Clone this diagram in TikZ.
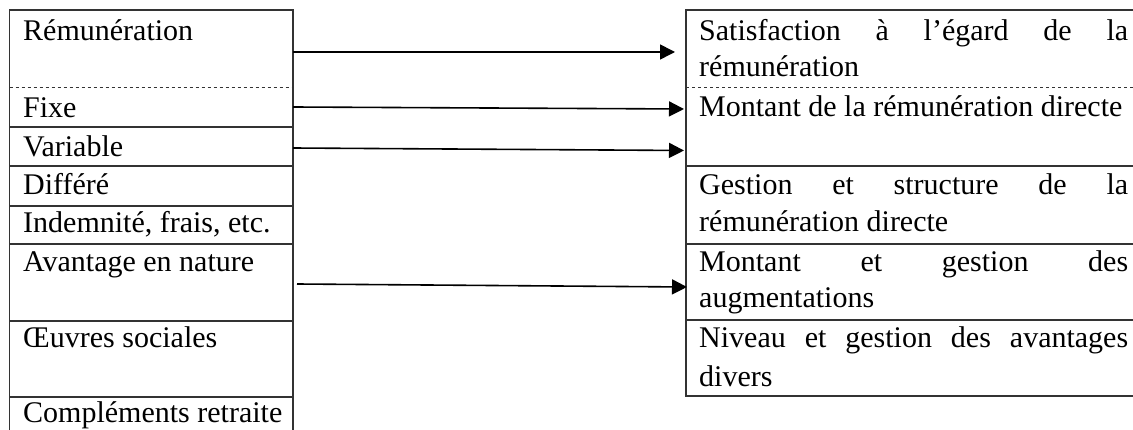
\documentclass[tikz,border=0pt]{standalone}
\usepackage{fontspec}
\setmainfont{Liberation Serif}
\usetikzlibrary{arrows.meta}
\begin{document}
\begin{tikzpicture}[x=1pt,y=-1pt,
  tline/.style={line width=1.2pt, draw=black!80},
  dline/.style={line width=0.9pt, draw=black!80, dash pattern=on 3pt off 3pt},
  lbl/.style={anchor=base west, inner sep=0pt, font=\fontsize{30}{37}\selectfont},
  conn/.style={line width=1.6pt, draw=black, -{Triangle[length=15pt,width=15pt]}}]
\useasboundingbox (0,0) rectangle (1133,430);
% left table
\draw[tline] (9.5,430) -- (9.5,10) -- (293,10) -- (293,430);
\draw[dline] (9.5,87) -- (293,87);
\foreach \yy in {127,166,206,244,321,397}
  \draw[tline] (9.5,\yy) -- (293,\yy);
% right table
\draw[tline] (1133,10) -- (686,10) -- (686,396) -- (1133,396);
\draw[dline] (686,87) -- (1133,87);
\foreach \yy in {166,244,320}
  \draw[tline] (686,\yy) -- (1133,\yy);
% left labels
\node[lbl] (l1) at (23,40.5) {Rémunération};
\node[lbl] (l2) at (23,118) {Fixe};
\node[lbl] (l3) at (23,157) {Variable};
\node[lbl] (l4) at (23,194.5) {Différé};
\node[lbl] (l5) at (23,233) {Indemnité, frais, etc.};
\node[lbl] (l6) at (23,272) {Avantage en nature};
\node[lbl] (l7) at (23,348) {Œuvres sociales};
\node[lbl] (l8) at (23,422) {Compléments retraite};
% right labels
\node[lbl] (r1a) at (699,40.5) {\hbox to 429pt{Satisfaction\hfill à\hfill l’égard\hfill de\hfill la}};
\node[lbl] (r1b) at (699,77) {rémunération};
\node[lbl] (r2) at (699,117) {Montant de la rémunération directe};
\node[lbl] (r3a) at (699,195) {\hbox to 429pt{Gestion\hfill et\hfill structure\hfill de\hfill la}};
\node[lbl] (r3b) at (699,232) {rémunération directe};
\node[lbl] (r4a) at (699,272) {\hbox to 429pt{Montant\hfill et\hfill gestion\hfill des}};
\node[lbl] (r4b) at (699,308) {augmentations};
\node[lbl] (r5a) at (699,348) {\hbox to 429pt{Niveau\hfill et\hfill gestion\hfill des\hfill avantages}};
\node[lbl] (r5b) at (699,386) {divers};
% connector end points
\coordinate (a1s) at (293,52);   \coordinate (a1e) at (675,52);
\coordinate (a2s) at (293,107);  \coordinate (a2e) at (684,109);
\coordinate (a3s) at (293,148);  \coordinate (a3e) at (684,150.5);
\coordinate (a4s) at (297,284);  \coordinate (a4e) at (687,287);
\draw[conn] (a1s) -- (a1e);
\draw[conn] (a2s) -- (a2e);
\draw[conn] (a3s) -- (a3e);
\draw[conn] (a4s) -- (a4e);
\end{tikzpicture}
\end{document}
